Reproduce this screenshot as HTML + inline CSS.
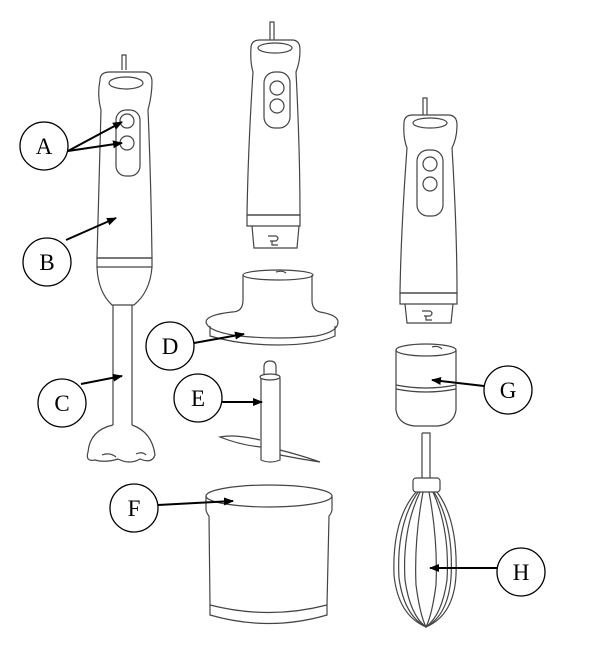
<!DOCTYPE html>
<html><head><meta charset="utf-8"><style>
html,body{margin:0;padding:0;background:#fff;}
svg{display:block;}
text{font-family:"Liberation Serif",serif;font-size:23px;text-anchor:middle;}
</style></head><body>
<svg width="603" height="648" viewBox="0 0 603 648" xmlns="http://www.w3.org/2000/svg">
<defs>
<marker id="ar" markerWidth="10" markerHeight="8" refX="9" refY="4" orient="auto" markerUnits="userSpaceOnUse"><path d="M0,0 L10,4 L0,8 Z" fill="#000"/></marker>
</defs>
<g fill="none" stroke="#444" stroke-width="1.2">
<!-- Blender 1 -->
<path d="M122,70 V55 H126 V70"/>
<path d="M100,80 Q100,72 110,72 H143 Q152,72 152,82 Q152,95 148,110 Q151,180 152,258 H97 Q99,180 101,110 Q97,95 100,80 Z"/>
<ellipse cx="126" cy="83" rx="17" ry="6"/>
<rect x="116" y="110" width="24" height="66" rx="10"/>
<circle cx="127" cy="121" r="7"/><circle cx="127" cy="143" r="7"/>
<path d="M97,258 H152 V267 H97 Z"/>
<path d="M97,267 Q98,292 112,305 H134 Q150,292 152,267"/>
<path d="M113,305 V425 M132,305 V425"/>
<path d="M113,425 Q90,430 88,452 Q85,462 95,460 Q105,463 118,459 Q130,465 140,459 Q152,464 155,455 Q152,432 132,425"/>
<path d="M102,455 Q110,452 116,457 M136,454 Q142,451 146,455"/>
<!-- Blender 2 -->
<path d="M270,40 V22 H274 V40"/>
<path d="M251,48 Q251,40 260,40 H292 Q300,40 300,50 Q300,62 296,72 Q300,150 300,215 H247 Q248,150 253,72 Q250,62 251,48 Z"/>
<ellipse cx="275" cy="48" rx="17" ry="5"/>
<rect x="264" y="72" width="26" height="56" rx="11"/>
<circle cx="277" cy="88" r="7"/><circle cx="277" cy="106" r="7"/>
<path d="M247,215 H300 V226 H247 Z"/>
<path d="M252,226 L254,248 H297 L299,226"/>
<path d="M268,236 H276 Q280,238 276,241 H270 M272,241 V245 H278"/>
<!-- Chopper lid -->
<ellipse cx="278" cy="275" rx="35" ry="5"/>
<path d="M243,275 V300 Q243,312 232,312 Q206,315 206,322 Q208,332 240,336 Q278,340 316,336 Q338,332 338,322 Q338,315 320,312 Q312,310 312,300 V275"/>
<path d="M210,326 V336 Q240,345 278,345 Q316,345 335,336 V326"/>
<path d="M276,272 Q282,270 286,273"/>
<!-- Blade E -->
<path d="M264,374 V367 Q264,361 270,361 Q276,361 276,367 V374"/>
<ellipse cx="270" cy="377" rx="10" ry="3"/>
<path d="M261,378 V460 Q270,464 280,460 V378"/>
<path d="M260,440 Q235,434 220,437 Q240,445 261,447 M280,450 Q300,455 320,462 Q300,459 280,455"/>
<!-- Bowl F -->
<ellipse cx="269" cy="496" rx="63" ry="11"/>
<path d="M206,496 V510 Q207,514 209,516 L210,605 M332,496 V510 Q331,514 329,516 L327,605"/>
<path d="M210,605 Q269,620 327,605 M210,605 V615 Q269,632 327,615 V605"/>
<!-- Blender 3 -->
<path d="M423,115 V98 H427 V115"/>
<path d="M404,123 Q404,115 413,115 H448 Q457,115 457,125 Q457,138 452,148 Q457,230 457,293 H400 Q401,230 407,148 Q403,138 404,123 Z"/>
<ellipse cx="430" cy="123" rx="17" ry="5"/>
<rect x="417" y="150" width="26" height="66" rx="11"/>
<circle cx="430" cy="164" r="7"/><circle cx="430" cy="184" r="7"/>
<path d="M400,293 H457 V304 H400 Z"/>
<path d="M405,304 L407,323 H451 L453,304"/>
<path d="M422,311 H430 Q434,313 430,316 H424 M426,316 V320 H432"/>
<!-- G -->
<ellipse cx="426" cy="350" rx="30" ry="6"/>
<path d="M396,350 V410 Q398,424 414,426 H438 Q454,424 456,410 V350"/>
<path d="M396,385 Q426,391 456,385 M396,389 Q426,395 456,389"/>
<path d="M432,347 Q438,345 442,349"/>
<!-- H whisk -->
<path d="M422,433 H430 V478 M422,433 V478"/>
<rect x="413" y="478" width="27" height="14" rx="3"/>
<path d="M416,492 Q392,520 394,575 Q398,615 426,627 Q454,615 456,575 Q458,520 437,492"/>
<path d="M420,492 Q402,530 405,580 Q410,615 426,627 Q442,615 447,580 Q450,530 433,492"/>
<path d="M423,492 Q414,540 416,585 Q420,615 426,627 Q432,615 436,585 Q438,540 429,492"/>
<path d="M418,492 Q396,525 399,578 Q404,615 426,627 M434,492 Q454,525 451,578 Q448,615 426,627"/>
</g>
<!-- labels -->
<g fill="#fff" stroke="#000" stroke-width="1.3">
<circle cx="44" cy="146" r="24"/><circle cx="47" cy="262" r="24"/><circle cx="62" cy="403" r="24"/>
<circle cx="170" cy="346" r="24"/><circle cx="198" cy="398" r="24"/><circle cx="134" cy="508" r="24"/>
<circle cx="508" cy="390" r="24"/><circle cx="521" cy="572" r="24"/>
</g>
<g stroke="#000" stroke-width="2" marker-end="url(#ar)">
<line x1="68" y1="151" x2="122" y2="122"/>
<line x1="68" y1="151" x2="122" y2="143"/>
<line x1="66" y1="240" x2="116" y2="218"/>
<line x1="81" y1="384" x2="122" y2="376"/>
<line x1="194" y1="343" x2="244" y2="334"/>
<line x1="222" y1="402" x2="262" y2="402"/>
<line x1="158" y1="505" x2="233" y2="501"/>
<line x1="484" y1="386" x2="432" y2="380"/>
<line x1="497" y1="568" x2="430" y2="568"/>
</g>
<g fill="#000">
<text x="44" y="154">A</text><text x="47" y="270">B</text><text x="62" y="411">C</text>
<text x="170" y="354">D</text><text x="198" y="406">E</text><text x="134" y="516">F</text>
<text x="508" y="398">G</text><text x="521" y="580">H</text>
</g>
</svg>
</body></html>
